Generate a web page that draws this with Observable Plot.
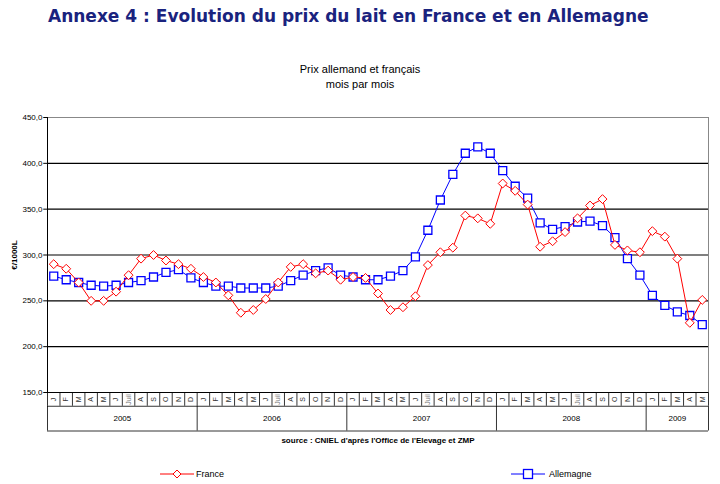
<!DOCTYPE html>
<html><head><meta charset="utf-8">
<script src="https://cdn.jsdelivr.net/npm/d3@7"></script>
<script src="https://cdn.jsdelivr.net/npm/@observablehq/plot@0.6"></script>
<style>
body{margin:0;font-family:Arial,"Liberation Sans",sans-serif;background:#fff}
#wrap{position:relative;width:720px;height:484px}
.t{position:absolute}
</style></head><body>
<div id="wrap">
<div class="t" style="left:48px;top:6px;font-size:17px;font-weight:bold;color:#1a237e;font-family:Verdana,'DejaVu Sans',sans-serif">Annexe 4 : Evolution du prix du lait en France et en Allemagne</div>
<div class="t" style="left:0;width:720px;top:62px;text-align:center;font-size:11px;line-height:15px">Prix allemand et français<br>mois par mois</div>
<div class="t" style="left:160px;top:468px;font-size:9px;display:flex;align-items:center"><svg width="34" height="12"><line x1="0" y1="6" x2="34" y2="6" stroke="red"/><path d="M17 2L21 6L17 10L13 6Z" fill="white" stroke="red"/></svg><span style="margin-left:2px">France</span></div>
<div class="t" style="left:511px;top:468px;font-size:9px;display:flex;align-items:center"><svg width="34" height="12"><line x1="0" y1="6" x2="34" y2="6" stroke="blue"/><rect x="12.5" y="1.5" width="9" height="9" fill="white" stroke="blue" stroke-width="1.3"/></svg><span style="margin-left:4px">Allemagne</span></div>
<div id="chart" class="t" style="left:0;top:0"></div>
</div>
<script>
const months = ["J","F","M","A","M","J","Juil","A","S","O","N","D"];
const years = ["2005","2006","2007","2008","2009"];
const france = [290,285,270,250,250,260,278,296,300,294,290,285,
 276,270,256,237,240,252,270,287,290,280,283,273,
 276,275,258,240,243,255,289,303,308,343,340,334,
 378,370,355,309,315,325,340,354,361,311,305,303,
 326,320,296,226,251];
const allemagne = [277,273,270,267,266,267,270,272,276,281,284,275,
 270,266,266,264,264,264,266,272,278,283,286,278,
 276,273,273,277,283,298,327,360,388,411,418,411,
 392,375,362,335,328,331,336,337,332,319,296,278,
 256,245,238,234,224];
const yTicks = [150,200,250,300,350,400,450];
const n = france.length;
const rows = d3.range(n).map(i => ({x:i+0.5, fr:france[i], de:allemagne[i], m:months[i%12]}));
const yearRows = years.map((y,k)=>({y, x0:k*12, x1:Math.min(k*12+12,n)}));
const bounds = d3.range(n+1);
const yb = [0,12,24,36,48,n];
const chart = Plot.plot({
  width:720, height:484, marginTop:117, marginLeft:47, marginRight:12, marginBottom:92,
  style:{fontFamily:"Arial, 'Liberation Sans', sans-serif"},
  x:{type:"linear", domain:[0,n], axis:null},
  y:{type:"linear", domain:[150,450], axis:null},
  marks:[
    Plot.ruleY(yTicks.slice(1,-1), {x1:0, x2:n, stroke:"black", strokeWidth:1.2}),
    Plot.ruleY([450], {x1:0, x2:n, stroke:"#888"}),
    Plot.ruleX([n], {y1:150, y2:450, stroke:"#888"}),
    Plot.ruleX([0], {y1:150, y2:450, stroke:"black"}),
    Plot.ruleY([150], {x1:0, x2:n, stroke:"black"}),
    Plot.ruleY(yTicks, {x1:-0.3, x2:0, stroke:"black"}),
    Plot.text(yTicks, {x:0, y:d=>d, text:d=>d.toFixed(1).replace(".",","), textAnchor:"end", dx:-5, fontSize:8}),
    Plot.text(["€/1000L"], {x:0, y:300, dx:-33, rotate:-90, fontSize:8, fontWeight:"bold"}),
    Plot.ruleX(bounds, {y1:150, y2:135, stroke:"black", strokeWidth:0.8}),
    Plot.ruleX(yb, {y1:135, y2:108, stroke:"black", strokeWidth:0.8}),
    Plot.ruleY([135,108], {x1:0, x2:n, stroke:"black", strokeWidth:0.8}),
    Plot.text(rows, {x:"x", y:142.5, text:"m", rotate:-90, fontSize:7, fill:d=>d.m==="Juil"?"#777":"#333"}),
    Plot.text(yearRows, {x:d=>(d.x0+d.x1)/2, y:121.5, text:"y", fontSize:8}),
    Plot.text(["source : CNIEL d'après l'Office de l'Elevage et ZMP"], {x:n/2, y:98, fontSize:8, fontWeight:"bold"}),
    Plot.line(rows, {x:"x", y:"de", stroke:"blue", strokeWidth:1}),
    Plot.dot(rows, {x:"x", y:"de", symbol:"square", r:4.5, fill:"white", stroke:"blue", strokeWidth:1.3}),
    Plot.line(rows, {x:"x", y:"fr", stroke:"red", strokeWidth:1}),
    Plot.dot(rows, {x:"x", y:"fr", symbol:"diamond2", r:4, fill:"white", stroke:"red", strokeWidth:1}),
  ]
});
document.getElementById("chart").append(chart);
</script>
</body></html>
